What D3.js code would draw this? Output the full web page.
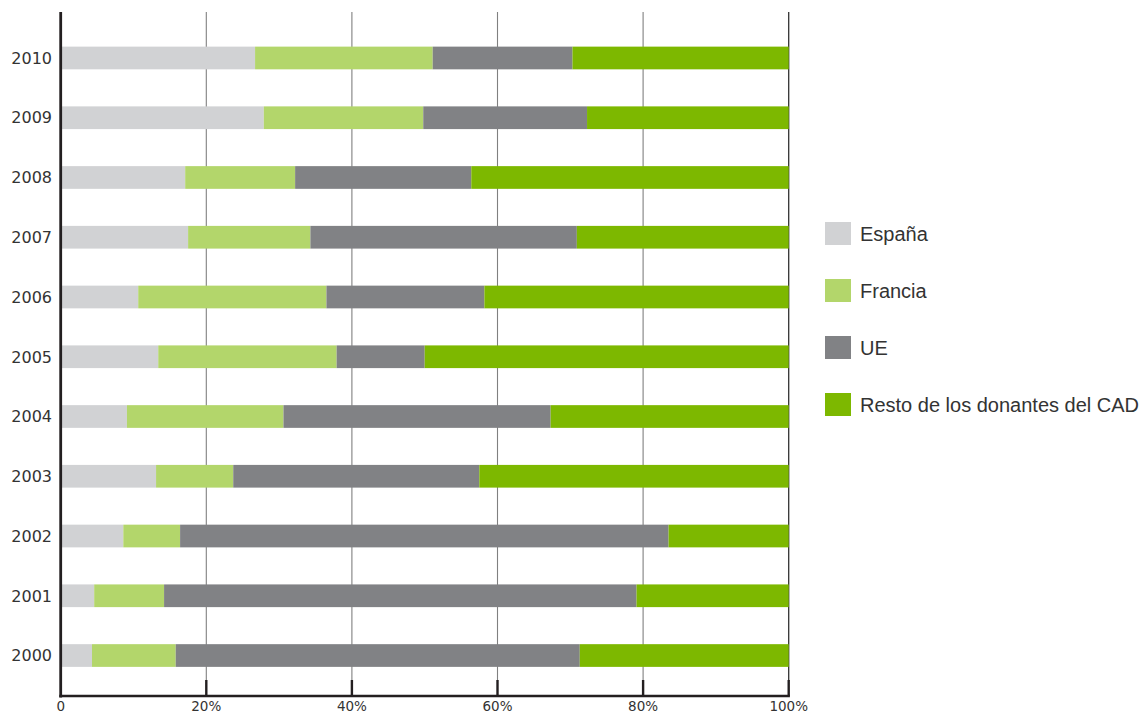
<!DOCTYPE html>
<html>
<head>
<meta charset="utf-8">
<script src="https://cdn.jsdelivr.net/npm/d3@7"></script>
<style>
  html, body { margin: 0; padding: 0; background: #ffffff; }
  svg { display: block; }
</style>
</head>
<body>
<svg id="chart" width="1143" height="714"></svg>
<script>
// ---- Data (percent shares) ----
const years   = [2000, 2001, 2002, 2003, 2004, 2005, 2006, 2007, 2008, 2009, 2010];
const espana  = [4.3, 4.6, 8.6, 13.1, 9.1, 13.4, 10.65, 17.5, 17.1, 27.9, 26.7];
const francia = [11.5, 9.6, 7.8, 10.6, 21.5, 24.5, 25.85, 16.8, 15.1, 21.9, 24.4];
const ue      = [55.5, 64.9, 67.1, 33.8, 36.7, 12.1, 21.7, 36.6, 24.2, 22.5, 19.2];
const resto   = [28.7, 20.9, 16.5, 42.5, 32.7, 50.0, 41.8, 29.1, 43.6, 27.7, 29.7];
const seriesNames = ["España", "Francia", "UE", "Resto de los donantes del CAD"];
const xTicks = [0, 20, 40, 60, 80, 100];

const colors = ["#d1d2d4", "#b3d66b", "#818285", "#7db800"];

const rows = years.map((y, i) => ({
  year: y, s0: espana[i], s1: francia[i], s2: ue[i], s3: resto[i]
}));
const keys = ["s0", "s1", "s2", "s3"];

const svg = d3.select("#chart");

const x = d3.scaleLinear().domain([0, 100]).range([60.7, 788.7]);
const y = d3.scaleBand()
  .domain(years.slice().reverse())
  .range([28.1, 685.4])
  .paddingInner(0.62)
  .paddingOuter(0.31);

// gridlines
svg.append("g").selectAll("line")
  .data(xTicks.filter(t => t > 0))
  .join("line")
  .attr("x1", d => x(d)).attr("x2", d => x(d))
  .attr("y1", 12).attr("y2", 681)
  .attr("stroke", d => d === 100 ? "#333333" : "#808080")
  .attr("stroke-width", d => d === 100 ? 1.3 : 1.1);

// bars
const stack = d3.stack().keys(keys);
const stacked = stack(rows);
svg.append("g").selectAll("g")
  .data(stacked)
  .join("g")
  .attr("fill", (d, i) => colors[i])
  .selectAll("rect")
  .data(d => d)
  .join("rect")
  .attr("x", d => x(d[0]))
  .attr("width", d => x(d[1]) - x(d[0]))
  .attr("y", d => y(d.data.year))
  .attr("height", y.bandwidth());

// ticks at bottom
svg.append("g").selectAll("line")
  .data(xTicks.filter(t => t > 0))
  .join("line")
  .attr("x1", d => x(d)).attr("x2", d => x(d))
  .attr("y1", 680).attr("y2", 696)
  .attr("stroke", "#231f20")
  .attr("stroke-width", 2.4);

// axis lines
svg.append("line")
  .attr("x1", x(0)).attr("x2", x(0))
  .attr("y1", 12).attr("y2", 697.4)
  .attr("stroke", "#231f20").attr("stroke-width", 2.8);
svg.append("line")
  .attr("x1", x(0) - 1.4).attr("x2", x(100) + 1.2)
  .attr("y1", 696).attr("y2", 696)
  .attr("stroke", "#231f20").attr("stroke-width", 2.7);

// x tick labels
svg.append("g").selectAll("text")
  .data(xTicks)
  .join("text")
  .attr("x", d => x(d))
  .attr("y", 710.5)
  .attr("text-anchor", "middle")
  .attr("font-family", "'DejaVu Sans', sans-serif")
  .attr("font-size", 13.5)
  .attr("fill", "#333333")
  .text(d => d === 0 ? "0" : d + "%");

// year labels
svg.append("g").selectAll("text")
  .data(years)
  .join("text")
  .attr("x", 52)
  .attr("y", d => y(d) + y.bandwidth() / 2)
  .attr("dy", "0.36em")
  .attr("text-anchor", "end")
  .attr("font-family", "'DejaVu Sans', sans-serif")
  .attr("font-size", 16)
  .attr("fill", "#333333")
  .text(d => d);

// legend
const lg = svg.append("g").selectAll("g")
  .data(seriesNames)
  .join("g")
  .attr("transform", (d, i) => `translate(825, ${222 + i * 57})`);
lg.append("rect")
  .attr("width", 26).attr("height", 23)
  .attr("fill", (d, i) => colors[i]);
lg.append("text")
  .attr("x", 35)
  .attr("y", 19)
  .attr("font-family", "'Liberation Sans', Arial, sans-serif")
  .attr("font-size", 20)
  .attr("fill", "#333333")
  .text(d => d);
</script>
</body>
</html>
